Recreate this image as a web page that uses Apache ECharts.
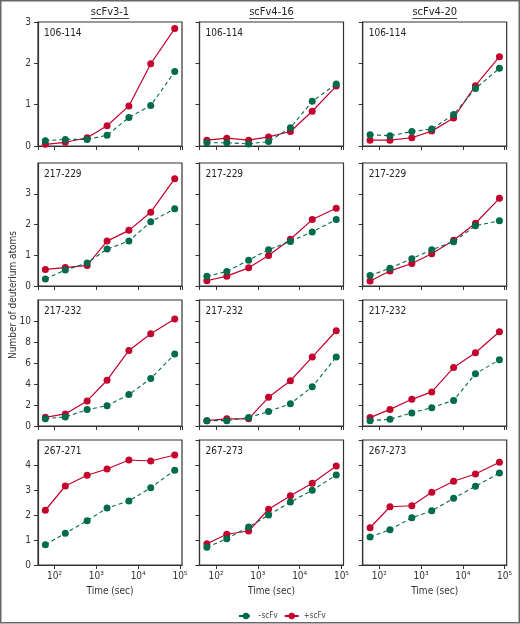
<!DOCTYPE html>
<html><head><meta charset="utf-8">
<script src="https://cdn.jsdelivr.net/npm/echarts@6/dist/echarts.min.js"></script>
<style>html,body{margin:0;padding:0;background:#fff}#c{width:520px;height:624px}</style>
</head><body><div id="c"></div>
<script>
// ---- data ----
const times = [60, 180, 600, 1800, 6000, 20000, 75000];
const columnTitles = ['scFv3-1', 'scFv4-16', 'scFv4-20'];
const peptideLabels = [
  ['106-114', '106-114', '106-114'],
  ['217-229', '217-229', '217-229'],
  ['217-232', '217-232', '217-232'],
  ['267-271', '267-273', '267-273']
];
const yTickMax = [3, 4, 12, 5];
const yTickStep = [1, 1, 2, 1];
const seriesNames = ['\u2013scFv', '+scFv'];

// -scFv (green, dashed)
const minusR1C1 = [0.13, 0.16, 0.16, 0.26, 0.69, 0.98, 1.80];
const minusR1C2 = [0.08, 0.08, 0.05, 0.11, 0.44, 1.08, 1.50];
const minusR1C3 = [0.27, 0.25, 0.35, 0.41, 0.76, 1.39, 1.88];
const minusR2C1 = [0.23, 0.52, 0.75, 1.20, 1.46, 2.09, 2.51];
const minusR2C2 = [0.32, 0.47, 0.84, 1.18, 1.45, 1.76, 2.16];
const minusR2C3 = [0.34, 0.58, 0.89, 1.18, 1.44, 1.96, 2.12];
const minusR3C1 = [0.70, 0.86, 1.56, 1.94, 2.99, 4.52, 6.85];
const minusR3C2 = [0.51, 0.51, 0.80, 1.38, 2.12, 3.73, 6.56];
const minusR3C3 = [0.51, 0.64, 1.25, 1.74, 2.44, 4.98, 6.30];
const minusR4C1 = [0.81, 1.27, 1.77, 2.28, 2.56, 3.09, 3.79];
const minusR4C2 = [0.71, 1.05, 1.52, 2.00, 2.52, 2.99, 3.60];
const minusR4C3 = [1.12, 1.41, 1.89, 2.17, 2.67, 3.15, 3.68];
// +scFv (red, solid)
const plusR1C1 = [0.04, 0.09, 0.20, 0.49, 0.97, 1.99, 2.84];
const plusR1C2 = [0.14, 0.19, 0.14, 0.22, 0.35, 0.84, 1.45];
const plusR1C3 = [0.14, 0.14, 0.20, 0.36, 0.68, 1.46, 2.16];
const plusR2C1 = [0.54, 0.60, 0.67, 1.46, 1.81, 2.40, 3.49];
const plusR2C2 = [0.17, 0.32, 0.59, 0.99, 1.52, 2.16, 2.53];
const plusR2C3 = [0.16, 0.49, 0.73, 1.05, 1.49, 2.04, 2.85];
const plusR3C1 = [0.83, 1.15, 2.39, 4.36, 7.20, 8.79, 10.19];
const plusR3C2 = [0.51, 0.68, 0.68, 2.73, 4.31, 6.56, 9.07];
const plusR3C3 = [0.80, 1.58, 2.54, 3.25, 5.56, 6.98, 8.97];
const plusR4C1 = [2.19, 3.16, 3.59, 3.84, 4.20, 4.16, 4.40];
const plusR4C2 = [0.85, 1.23, 1.36, 2.23, 2.77, 3.27, 3.96];
const plusR4C3 = [1.49, 2.33, 2.37, 2.91, 3.35, 3.64, 4.11];

const minusData = [
  [minusR1C1, minusR1C2, minusR1C3],
  [minusR2C1, minusR2C2, minusR2C3],
  [minusR3C1, minusR3C2, minusR3C3],
  [minusR4C1, minusR4C2, minusR4C3]
];
const plusData = [
  [plusR1C1, plusR1C2, plusR1C3],
  [plusR2C1, plusR2C2, plusR2C3],
  [plusR3C1, plusR3C2, plusR3C3],
  [plusR4C1, plusR4C2, plusR4C3]
];

// ---- layout / style ----
const FONT = "'Liberation Sans Narrow','DejaVu Sans Condensed','Liberation Sans',sans-serif";
const GREEN = '#006B4C';
const RED = '#C4002D';
const AX = '#333333';
const colLeft = [38, 199.5, 362.7];
const colWidth = 144;
const rowTop = [22, 163, 300, 440];
const rowHeight = [124, 123, 126, 125];
const sup = {'2': '\u00B2', '3': '\u00B3', '4': '\u2074', '5': '\u2075'};

const grids = [], xAxes = [], yAxes = [], series = [], graphics = [];
let idx = 0;
for (let r = 0; r < 4; r++) {
  for (let c = 0; c < 3; c++) {
    grids.push({
      left: colLeft[c], top: rowTop[r], width: colWidth, height: rowHeight[r],
      show: true, borderColor: AX, borderWidth: 1.2, backgroundColor: 'transparent',
      containLabel: false, outerBoundsMode: 'none'
    });
    xAxes.push({
      type: 'log', logBase: 10, gridIndex: idx, min: 40, max: 112000,
      axisLine: {show: true, lineStyle: {color: AX, width: 1.2}},
      axisTick: {show: true, inside: false, length: 4, lineStyle: {color: AX, width: 1}},
      minorTick: {show: false},
      splitLine: {show: false},
      axisLabel: {
        show: r === 3, margin: 6, fontSize: 10, color: '#333', fontFamily: FONT,
        showMinLabel: false, showMaxLabel: false,
        formatter: function (v) {
          const e = Math.round(Math.log10(v));
          return '10' + (sup[String(e)] || '');
        }
      },
      name: r === 3 ? 'Time (sec)' : '',
      nameLocation: 'middle', nameGap: 21,
      nameTextStyle: {fontSize: 10, color: '#333', fontFamily: FONT}
    });
    yAxes.push({
      type: 'value', gridIndex: idx, min: 0, max: yTickMax[r], interval: yTickStep[r],
      axisLine: {show: true, lineStyle: {color: AX, width: 1.2}},
      axisTick: {show: true, inside: false, length: 4, lineStyle: {color: AX, width: 1}},
      splitLine: {show: false},
      axisLabel: {
        show: c === 0, margin: 7, fontSize: 10, color: '#333', fontFamily: FONT,
        showMaxLabel: r === 0
      }
    });
    series.push({
      name: seriesNames[0], type: 'line', xAxisIndex: idx, yAxisIndex: idx,
      data: times.map((t, i) => [t, minusData[r][c][i]]),
      symbol: 'circle', symbolSize: 7, showSymbol: true,
      lineStyle: {color: GREEN, width: 1.1, type: [4, 3]},
      itemStyle: {color: GREEN}, z: 3, animation: false
    });
    series.push({
      name: seriesNames[1], type: 'line', xAxisIndex: idx, yAxisIndex: idx,
      data: times.map((t, i) => [t, plusData[r][c][i]]),
      symbol: 'circle', symbolSize: 7, showSymbol: true,
      lineStyle: {color: RED, width: 1.2, type: 'solid'},
      itemStyle: {color: RED}, z: 2, animation: false
    });
    graphics.push({
      type: 'text', x: colLeft[c] + 6, y: rowTop[r] + 11,
      style: {text: peptideLabels[r][c], fill: '#222', font: '10px ' + FONT,
              verticalAlign: 'middle', textVerticalAlign: 'middle'}
    });
    idx++;
  }
}

// column titles with underline
const mctx = document.createElement('canvas').getContext('2d');
mctx.font = '11px ' + FONT;
for (let c = 0; c < 3; c++) {
  const cx = colLeft[c] + colWidth / 2;
  const w = mctx.measureText(columnTitles[c]).width;
  graphics.push({
    type: 'text', x: cx, y: 12.5,
    style: {text: columnTitles[c], fill: '#222', font: '11px ' + FONT,
            align: 'center', textAlign: 'center', verticalAlign: 'middle', textVerticalAlign: 'middle'}
  });
  graphics.push({
    type: 'line', shape: {x1: cx - w / 2, y1: 18.5, x2: cx + w / 2, y2: 18.5},
    style: {stroke: '#222', lineWidth: 0.8}
  });
}
// y-axis title
graphics.push({
  type: 'text', x: 13, y: 295, rotation: Math.PI / 2,
  style: {text: 'Number of deuterium atoms', fill: '#333', font: '10px ' + FONT,
          align: 'center', textAlign: 'center', verticalAlign: 'middle', textVerticalAlign: 'middle'}
});
// outer frame
graphics.push({
  type: 'rect', shape: {x: 0.75, y: 0.75, width: 518.5, height: 622},
  style: {fill: 'none', stroke: '#666', lineWidth: 1.5}, silent: true
});

const chart = echarts.init(document.getElementById('c'), null, {renderer: 'canvas'});
chart.setOption({
  animation: false,
  backgroundColor: '#fff',
  grid: grids, xAxis: xAxes, yAxis: yAxes, series: series,
  legend: {
    data: seriesNames, left: 233, top: 607, itemWidth: 14, itemHeight: 8, itemGap: 6,
    textStyle: {fontSize: 8, color: '#444', fontFamily: FONT}
  },
  graphic: graphics
});
</script>
</body></html>
